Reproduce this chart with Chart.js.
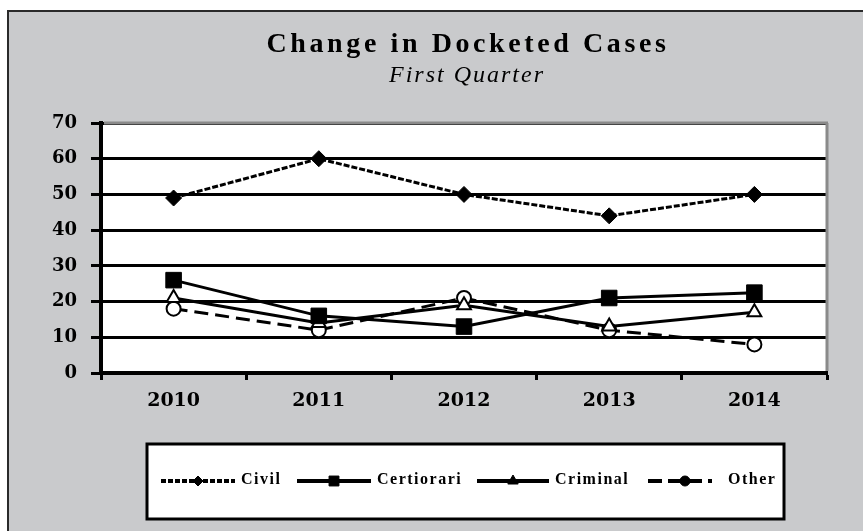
<!DOCTYPE html>
<html>
<head>
<meta charset="utf-8">
<script src="https://cdn.jsdelivr.net/npm/chart.js@4.4.1/dist/chart.umd.min.js"></script>
<style>
  html, body { margin: 0; padding: 0; background: #ffffff; }
  #wrap { position: relative; width: 863px; height: 531px; }
  canvas { display: block; }
</style>
</head>
<body>
<div id="wrap"><canvas id="c" width="863" height="531"></canvas></div>
<script>
// ---- data ----
const chartTitle = 'Change in Docketed Cases';
const chartSubtitle = 'First Quarter';
const categories = ['2010', '2011', '2012', '2013', '2014'];
const seriesNames = ['Civil', 'Certiorari', 'Criminal', 'Other'];
const civil = [49, 60, 50, 44, 50];
const certiorari = [26, 16, 13, 21, 22.5];
const criminal = [21, 14, 19, 13, 17];
const other = [18, 12, 21, 12, 8];
const yMin = 0, yMax = 70, yStep = 10;

// ---- styles / layout ----
const GRAY_BG = '#c9cacc';
const serif = '"Liberation Serif", "DejaVu Serif", serif';
const tickSerif = '"DejaVu Serif", "Liberation Serif", serif';
const legendSampleX = [161, 297, 477, 648];
const legendTextX = [241, 377, 555, 728];

const backgroundPlugin = {
  id: 'bgFrame',
  beforeDraw(chart) {
    const ctx = chart.ctx;
    ctx.save();
    ctx.fillStyle = '#ffffff';
    ctx.fillRect(0, 0, chart.width, chart.height);
    ctx.fillStyle = GRAY_BG;
    ctx.fillRect(7, 10, chart.width - 7, chart.height - 10);
    ctx.strokeStyle = '#2a2a2a';
    ctx.lineWidth = 2;
    ctx.beginPath();
    ctx.moveTo(8, chart.height);
    ctx.lineTo(8, 11);
    ctx.lineTo(chart.width, 11);
    ctx.stroke();
    const a = chart.chartArea;
    ctx.fillStyle = '#ffffff';
    ctx.fillRect(a.left, a.top, a.right - a.left, a.bottom - a.top);
    ctx.restore();
  },
  beforeDatasetsDraw(chart) {
    const ctx = chart.ctx;
    const a = chart.chartArea;
    ctx.save();
    ctx.strokeStyle = '#8a8a8a';
    ctx.lineWidth = 3;
    ctx.beginPath();
    ctx.moveTo(a.left + 3, a.top);
    ctx.lineTo(a.right + 1, a.top);
    ctx.moveTo(a.right, a.top);
    ctx.lineTo(a.right, a.bottom - 2);
    ctx.stroke();
    ctx.restore();
  }
};

const titlePlugin = {
  id: 'titles',
  afterDraw(chart) {
    const ctx = chart.ctx;
    ctx.save();
    ctx.fillStyle = '#000';
    ctx.textAlign = 'center';
    ctx.textBaseline = 'alphabetic';
    ctx.font = 'bold 28px ' + serif;
    ctx.letterSpacing = '3.6px';
    ctx.fillText(chartTitle, 468, 52);
    ctx.font = 'italic 24px ' + serif;
    ctx.letterSpacing = '2px';
    ctx.fillText(chartSubtitle, 467, 82);
    ctx.restore();
  }
};

const legendPlugin = {
  id: 'boxLegend',
  afterDraw(chart) {
    const ctx = chart.ctx;
    const box = { left: 147, top: 444, right: 784, bottom: 519 };
    ctx.save();
    ctx.fillStyle = '#ffffff';
    ctx.fillRect(box.left, box.top, box.right - box.left, box.bottom - box.top);
    ctx.strokeStyle = '#000';
    ctx.lineWidth = 3;
    ctx.strokeRect(box.left, box.top, box.right - box.left, box.bottom - box.top);

    const y = 481;
    ctx.font = 'bold 16px ' + serif;
    ctx.letterSpacing = '1.5px';
    chart.data.datasets.forEach((ds, i) => {
      const x0 = legendSampleX[i];
      const x1 = legendTextX[i] - 6;
      // sample line
      ctx.save();
      ctx.strokeStyle = '#000';
      ctx.lineWidth = 4;
      ctx.setLineDash(ds.legendDash || []);
      ctx.beginPath();
      ctx.moveTo(x0, y);
      ctx.lineTo(i === 3 ? x1 - 10 : x1, y);
      ctx.stroke();
      ctx.restore();
      // marker
      ctx.save();
      ctx.fillStyle = '#000';
      ctx.strokeStyle = '#000';
      ctx.lineWidth = 1;
      const mx = i === 3 ? (x0 + x1 - 10) / 2 + 5 : (x0 + x1) / 2;
      Chart.helpers.drawPoint(ctx, {
        pointStyle: ds.pointStyle,
        radius: ds.legendRadius,
        rotation: 0,
        borderWidth: 1
      }, mx, y);
      ctx.restore();
      // text
      ctx.fillStyle = '#000';
      ctx.textAlign = 'left';
      ctx.textBaseline = 'middle';
      ctx.fillText(ds.label, legendTextX[i], y - 1);
    });
    ctx.restore();
  }
};

const ctx = document.getElementById('c').getContext('2d');
new Chart(ctx, {
  type: 'line',
  data: {
    labels: categories,
    datasets: [
      {
        label: seriesNames[0], data: civil,
        borderColor: '#000', borderWidth: 3, borderDash: [6, 2],
        pointStyle: 'rectRot', pointRadius: 8, pointBackgroundColor: '#000',
        pointBorderColor: '#000', pointBorderWidth: 1,
        legendDash: [5, 2], legendRadius: 5
      },
      {
        label: seriesNames[1], data: certiorari,
        borderColor: '#000', borderWidth: 3,
        pointStyle: 'rect', pointRadius: 11, pointBackgroundColor: '#000',
        pointBorderColor: '#000', pointBorderWidth: 1,
        legendDash: [], legendRadius: 7
      },
      {
        label: seriesNames[2], data: criminal,
        borderColor: '#000', borderWidth: 3,
        pointStyle: 'triangle', pointRadius: 8, pointBackgroundColor: '#fff',
        pointBorderColor: '#000', pointBorderWidth: 2,
        legendDash: [], legendRadius: 6
      },
      {
        label: seriesNames[3], data: other,
        borderColor: '#000', borderWidth: 3, borderDash: [14, 7],
        pointStyle: 'circle', pointRadius: 7, pointBackgroundColor: '#fff',
        pointBorderColor: '#000', pointBorderWidth: 2,
        legendDash: [14, 6], legendRadius: 5
      }
    ]
  },
  options: {
    responsive: false,
    animation: false,
    devicePixelRatio: 1,
    layout: { padding: { left: 0, right: 36, top: 123, bottom: 118 } },
    plugins: {
      legend: { display: false },
      title: { display: false },
      tooltip: { enabled: false }
    },
    elements: { line: { tension: 0 } },
    scales: {
      x: {
        type: 'category',
        offset: true,
        grid: {
          display: true, drawOnChartArea: false, drawTicks: true,
          offset: true, tickLength: 7, tickWidth: 3, tickColor: '#000'
        },
        border: { display: true, color: '#000', width: 4 },
        ticks: {
          color: '#000', padding: 10,
          font: { family: tickSerif, size: 19, weight: 'bold' }
        },
        afterFit(scale) { scale.height = 40; }
      },
      y: {
        min: yMin, max: yMax,
        ticks: {
          stepSize: yStep, color: '#000', padding: 14,
          font: { family: tickSerif, size: 18, weight: 'bold' }
        },
        grid: {
          color: '#000', lineWidth: 3, drawTicks: true,
          tickLength: 10, tickWidth: 3, tickColor: '#000'
        },
        border: { display: true, color: '#000', width: 4 },
        afterFit(scale) { scale.width = 101; }
      }
    }
  },
  plugins: [backgroundPlugin, titlePlugin, legendPlugin]
});
</script>
</body>
</html>
